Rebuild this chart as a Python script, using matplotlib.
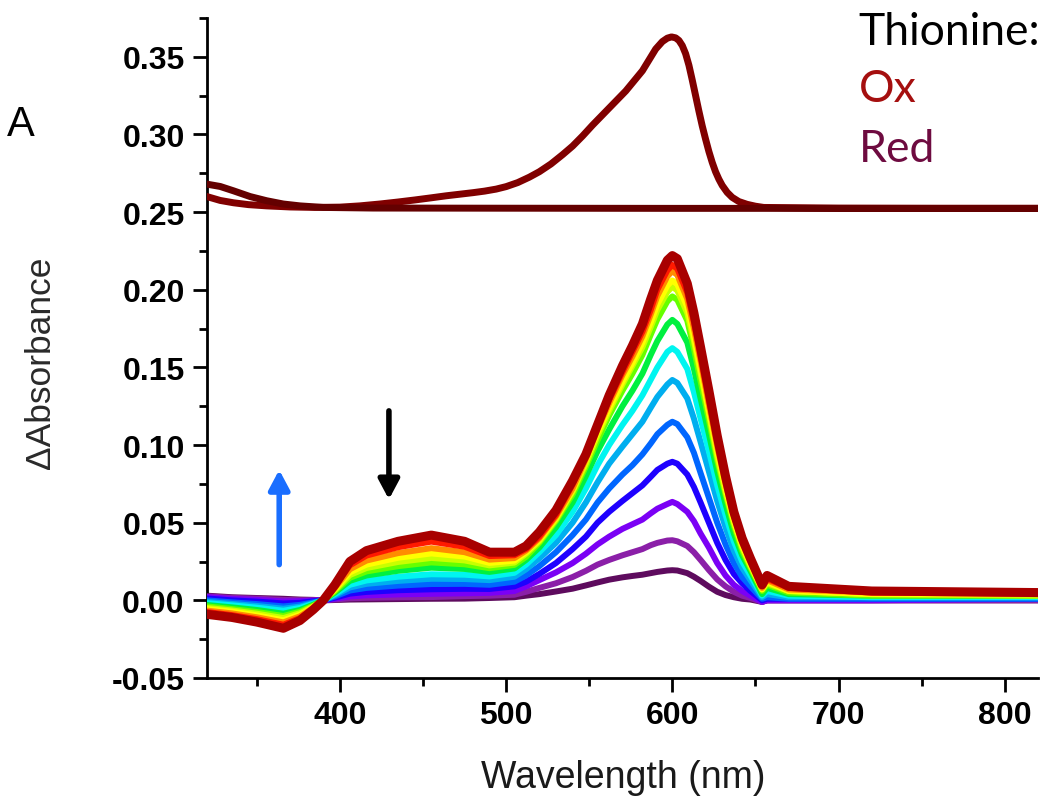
import matplotlib
matplotlib.use("Agg")
import matplotlib.pyplot as plt

# ---------------- data ----------------
wl = [320, 335, 350, 366, 376, 384, 390, 397, 406, 416, 435, 455, 475, 490,
      505, 512, 520, 530, 540, 548, 555, 562, 570, 576, 582, 587, 591, 597, 600, 603,
      609, 613, 617, 622, 627, 632, 637, 642, 647, 654, 657, 670, 720, 820]

s01 = [0.003, 0.002, 0.0015, 0.001, 0.0005, 0.0003, 0.0, 0.0002, 0.0005, 0.0006, 0.0008, 0.001, 0.0011, 0.0015,
       0.002, 0.003, 0.004, 0.0057, 0.0075, 0.0096, 0.0115, 0.0133, 0.0148, 0.0157, 0.0165, 0.0175, 0.0183,
       0.0192, 0.0194, 0.0192, 0.0175, 0.0152, 0.0125, 0.0088, 0.0055, 0.0034, 0.002, 0.001, 0.0005, -0.001,
       0.0, 0.0, 0.0, 0.0]
s02 = [0.0026, 0.0016, 0.0011, 0.0003, 0.0001, 0.0001, 0.0, 0.0005, 0.0013, 0.0016, 0.0019, 0.0021, 0.0027, 0.003,
       0.0036, 0.0055, 0.008, 0.011, 0.015, 0.019, 0.023, 0.026, 0.029, 0.031, 0.033, 0.0355, 0.037,
       0.0385, 0.0387, 0.038, 0.035, 0.031, 0.026, 0.0195, 0.0135, 0.009, 0.0055, 0.003, 0.0015, -0.001,
       0.0, 0.0, 0.0, 0.0]
s03 = [0.0021, 0.0009, 0.0003, -0.0007, -0.0005, -0.0002, 0.0, 0.001, 0.0025, 0.0032, 0.0038, 0.0042, 0.0045, 0.0048,
       0.006, 0.009, 0.013, 0.018, 0.024, 0.030, 0.036, 0.041, 0.046, 0.049, 0.052, 0.056, 0.059,
       0.062, 0.0634, 0.062, 0.057, 0.051, 0.043, 0.034, 0.024, 0.016, 0.010, 0.006, 0.003, -0.001,
       0.0, 0.0, 0.0, 0.001]
s04 = [0.0012, 0.0, -0.0008, -0.002, -0.0016, -0.0006, 0.0, 0.0017, 0.0043, 0.0054, 0.0065, 0.0071, 0.0074, 0.0073,
       0.009, 0.012, 0.017, 0.024, 0.033, 0.041, 0.050, 0.057, 0.064, 0.069, 0.074, 0.0795, 0.084,
       0.088, 0.0892, 0.088, 0.081, 0.073, 0.063, 0.050, 0.037, 0.026, 0.017, 0.011, 0.006, 0.0,
       0.001, 0.001, 0.001, 0.001]
s05 = [0.0, -0.0013, -0.0024, -0.0039, -0.0029, -0.0013, 0.0, 0.0025, 0.0063, 0.008, 0.0095, 0.0105, 0.0106, 0.010,
       0.012, 0.016, 0.022, 0.031, 0.042, 0.052, 0.063, 0.072, 0.081, 0.087, 0.094, 0.101, 0.107,
       0.113, 0.115, 0.1135, 0.105, 0.095, 0.082, 0.066, 0.050, 0.036, 0.024, 0.015, 0.009, 0.001,
       0.002, 0.001, 0.001, 0.001]
s06 = [-0.001, -0.0023, -0.0036, -0.0054, -0.004, -0.0018, 0.0, 0.0033, 0.0083, 0.0106, 0.0125, 0.0139, 0.0137, 0.013,
       0.0152, 0.020, 0.027, 0.037, 0.050, 0.063, 0.076, 0.088, 0.099, 0.107, 0.115, 0.124, 0.131,
       0.139, 0.1419, 0.140, 0.130, 0.117, 0.102, 0.083, 0.064, 0.047, 0.032, 0.021, 0.013, 0.002,
       0.004, 0.002, 0.002, 0.002]
s07 = [-0.0018, -0.0032, -0.0047, -0.0067, -0.0049, -0.0022, 0.0, 0.004, 0.010, 0.0128, 0.0152, 0.0168, 0.0165, 0.0154,
       0.0177, 0.023, 0.031, 0.042, 0.057, 0.072, 0.087, 0.100, 0.113, 0.122, 0.132, 0.142, 0.150,
       0.160, 0.1624, 0.160, 0.149, 0.134, 0.117, 0.096, 0.074, 0.055, 0.038, 0.025, 0.016, 0.003,
       0.006, 0.003, 0.002, 0.002]
s08 = [-0.003, -0.0045, -0.0062, -0.0086, -0.0062, -0.0028, 0.0, 0.005, 0.0125, 0.016, 0.019, 0.021, 0.0202, 0.0183,
       0.0205, 0.026, 0.034, 0.047, 0.063, 0.080, 0.096, 0.110, 0.125, 0.135, 0.146, 0.158, 0.167,
       0.1776, 0.1806, 0.178, 0.166, 0.149, 0.130, 0.107, 0.083, 0.062, 0.043, 0.029, 0.019, 0.004,
       0.008, 0.004, 0.003, 0.003]
s09 = [-0.0039, -0.0056, -0.0075, -0.0101, -0.0073, -0.0034, 0.0, 0.0058, 0.0145, 0.0186, 0.022, 0.0244, 0.0232, 0.0207,
       0.0228, 0.028, 0.037, 0.051, 0.068, 0.086, 0.103, 0.119, 0.135, 0.146, 0.158, 0.171, 0.181,
       0.1925, 0.1957, 0.1935, 0.180, 0.162, 0.141, 0.116, 0.090, 0.068, 0.048, 0.032, 0.021, 0.006,
       0.010, 0.005, 0.003, 0.003]
s10 = [-0.0049, -0.0065, -0.0086, -0.0114, -0.0083, -0.0038, 0.0, 0.0065, 0.0163, 0.0208, 0.0247, 0.0273, 0.0257, 0.0225,
       0.0243, 0.030, 0.038, 0.052, 0.070, 0.088, 0.106, 0.122, 0.139, 0.151, 0.163, 0.176, 0.187,
       0.1986, 0.202, 0.1995, 0.185, 0.167, 0.146, 0.120, 0.093, 0.070, 0.050, 0.034, 0.022, 0.007,
       0.011, 0.006, 0.004, 0.003]
s11 = [-0.0057, -0.0073, -0.0097, -0.0128, -0.0093, -0.0043, 0.0, 0.0072, 0.018, 0.023, 0.0274, 0.0302, 0.0282, 0.0241,
       0.0256, 0.031, 0.039, 0.053, 0.071, 0.090, 0.108, 0.124, 0.141, 0.153, 0.166, 0.179, 0.1906,
       0.2026, 0.206, 0.2035, 0.189, 0.170, 0.149, 0.122, 0.096, 0.072, 0.051, 0.035, 0.023, 0.007,
       0.012, 0.006, 0.004, 0.004]
s12 = [-0.0066, -0.0084, -0.0109, -0.0142, -0.0103, -0.0048, 0.0, 0.008, 0.020, 0.0256, 0.0304, 0.0336, 0.031, 0.0262,
       0.0272, 0.032, 0.040, 0.054, 0.072, 0.091, 0.110, 0.127, 0.145, 0.157, 0.170, 0.184, 0.196,
       0.2085, 0.212, 0.2095, 0.194, 0.175, 0.154, 0.126, 0.099, 0.075, 0.054, 0.037, 0.025, 0.008,
       0.013, 0.007, 0.005, 0.004]
s13 = [-0.0075, -0.0095, -0.0121, -0.0157, -0.0114, -0.0053, 0.0, 0.009, 0.0225, 0.0288, 0.0342, 0.0378, 0.0345, 0.0285,
       0.029, 0.033, 0.041, 0.055, 0.0745, 0.093, 0.111, 0.129, 0.147, 0.160, 0.173, 0.187, 0.200,
       0.2124, 0.216, 0.2135, 0.198, 0.179, 0.157, 0.129, 0.102, 0.077, 0.055, 0.038, 0.026, 0.009,
       0.014, 0.008, 0.005, 0.0045]
s14 = [-0.009, -0.011, -0.014, -0.018, -0.013, -0.006, 0.0, 0.010, 0.025, 0.032, 0.038, 0.042, 0.038, 0.031,
       0.031, 0.035, 0.044, 0.058, 0.077, 0.094, 0.113, 0.132, 0.151, 0.164, 0.178, 0.194, 0.206,
       0.219, 0.222, 0.220, 0.204, 0.185, 0.163, 0.135, 0.106, 0.080, 0.057, 0.040, 0.027, 0.010,
       0.016, 0.009, 0.006, 0.005]

series_colors = ['#5E0B5E', '#8B1FA8', '#7B00F5', '#1E00FF', '#0066FF', '#00AEEF', '#00F5F0',
                 '#00F040', '#66FF00', '#C8FF00', '#FFFF00', '#FF8C00', '#FF1A00', '#A80000']

ox_wl = [320, 328, 336, 345, 356, 370, 385, 400, 412, 424, 435, 445, 455, 464, 472, 480, 487, 494, 500,
         507, 514, 520, 527, 534, 540, 546, 552, 557, 562, 567, 572, 577, 582, 586, 590, 594, 597,
         599.5, 602, 604, 606, 608, 610, 612, 614, 616, 618, 620, 622, 624, 626, 628, 630, 633, 636,
         640, 645, 650, 655, 700, 760, 820]
ox_abs = [0.2600, 0.2575, 0.2560, 0.2548, 0.2540, 0.2533, 0.2530, 0.2532, 0.2540, 0.2552, 0.2565, 0.2578,
          0.2592, 0.2605, 0.2615, 0.2625, 0.2635, 0.2648, 0.2664, 0.2690, 0.2725, 0.2760, 0.2810, 0.2870,
          0.2925, 0.2990, 0.3060, 0.3115, 0.3170, 0.3225, 0.3280, 0.3345, 0.3410, 0.3480, 0.3550, 0.3598,
          0.3620, 0.3628, 0.3622, 0.3605, 0.3572, 0.3520, 0.3445, 0.3350, 0.3250, 0.3150, 0.3055, 0.2970,
          0.2890, 0.2820, 0.2760, 0.2712, 0.2672, 0.2627, 0.2595, 0.2568, 0.2550, 0.2538, 0.2530, 0.2526,
          0.2525, 0.2525]

red_wl = [320, 328, 336, 346, 356, 366, 376, 390, 420, 500, 600, 655, 700, 820]
red_abs = [0.2680, 0.2665, 0.2637, 0.2600, 0.2573, 0.2552, 0.2540, 0.2530, 0.2526, 0.2525, 0.2524,
           0.2524, 0.2523, 0.2523]

x_ticks = [400, 500, 600, 700, 800]
x_tick_labels = ['400', '500', '600', '700', '800']
y_ticks = [-0.05, 0.00, 0.05, 0.10, 0.15, 0.20, 0.25, 0.30, 0.35]
y_tick_labels = ['-0.05', '0.00', '0.05', '0.10', '0.15', '0.20', '0.25', '0.30', '0.35']

# ---------------- figure ----------------
fig = plt.figure(figsize=(10.45, 8.04), dpi=100)
ax = fig.add_axes([0.198, 0.1555, 0.7953, 0.8209])

spectra = [s01, s02, s03, s04, s05, s06, s07, s08, s09, s10, s11, s12, s13, s14]
for i, (s, c) in enumerate(zip(spectra, series_colors)):
    lw = 6.5 if i == len(spectra) - 1 else 4.3
    ax.plot(wl, s, color=c, lw=lw, solid_joinstyle='round', solid_capstyle='round', zorder=2 + i)

ax.plot(ox_wl, ox_abs, color='#800000', lw=5, solid_joinstyle='round', zorder=20)
ax.plot(red_wl, red_abs, color='#640000', lw=5, solid_joinstyle='round', zorder=21)

# arrows
ax.annotate('', xy=(363.5, 0.084), xytext=(363.5, 0.023),
            arrowprops=dict(arrowstyle='-|>,head_length=0.45,head_width=0.24', color='#1A6EFF',
                            lw=4, shrinkA=0, shrinkB=0, mutation_scale=26), zorder=30)
ax.annotate('', xy=(429.5, 0.065), xytext=(429.5, 0.122),
            arrowprops=dict(arrowstyle='-|>,head_length=0.45,head_width=0.24', color='black',
                            lw=4, shrinkA=0, shrinkB=0, mutation_scale=26), zorder=30)

ax.set_xlim(320, 820)
ax.set_ylim(-0.05, 0.375)

for side in ('top', 'right'):
    ax.spines[side].set_visible(False)
for side in ('left', 'bottom'):
    ax.spines[side].set_linewidth(2)

ax.set_xticks(x_ticks)
ax.set_xticklabels(x_tick_labels, fontweight='bold', fontsize=23, family='Liberation Sans')
ax.set_yticks(y_ticks)
ax.set_yticklabels(y_tick_labels, fontweight='bold', fontsize=23, family='Liberation Sans')
ax.set_xticks([350, 450, 550, 650, 750], minor=True)
ax.set_yticks([-0.025, 0.025, 0.075, 0.125, 0.175, 0.225, 0.275, 0.325, 0.375], minor=True)
ax.tick_params(which='major', direction='out', length=10, width=2, pad=6)
ax.tick_params(which='minor', direction='out', length=6, width=2)

ax.set_xlabel('Wavelength (nm)', fontsize=27, family='Liberation Sans', color='#1a1a1a')
ax.xaxis.label.set_va('baseline')
ax.xaxis.set_label_coords(0.5006, -0.1654)

ax.set_ylabel('\u0394Absorbance', fontsize=25.5, family='Liberation Sans', color='#2a2a2a')
ax.yaxis.label.set_va('center')
ax.yaxis.set_label_coords(-0.1998, 0.4795)

fig.text(0.0067, 0.8308, 'A', fontsize=30, family='Liberation Sans', va='baseline', ha='left')
fig.text(0.821, 0.944, 'Thionine:', fontsize=32, family='Lato', color='black', va='baseline')
fig.text(0.822, 0.873, 'Ox', fontsize=32, family='Lato', color='#A50F0F', va='baseline')
fig.text(0.822, 0.7985, 'Red', fontsize=32, family='Lato', color='#6E0B40', va='baseline')

fig.savefig('out.png', dpi=100)
